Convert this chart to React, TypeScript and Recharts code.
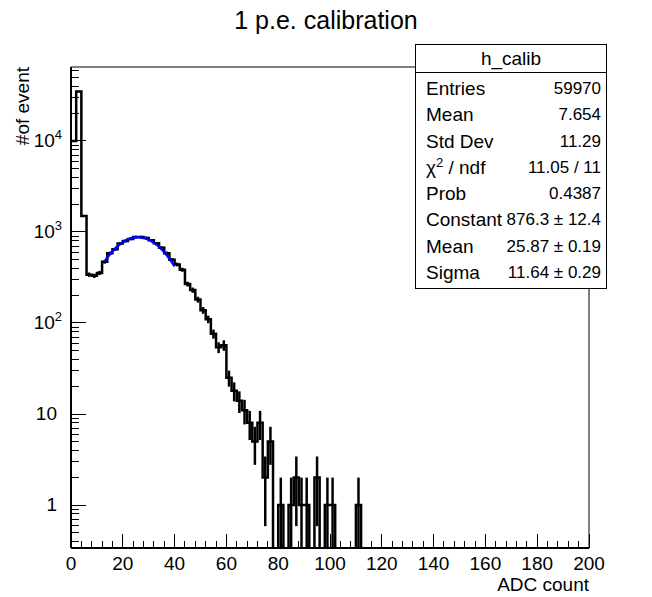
import { ComposedChart, Line, Scatter, ErrorBar, XAxis, YAxis, ReferenceArea } from "recharts";

const FONT = '"Liberation Sans", Arial, Helvetica, sans-serif';

// h_calib bin contents, 2 ADC counts per bin, 0..200
const counts = [
  10000, 35000, 1500, 340, 330, 355, 470, 585, 645, 745,
  795, 840, 880, 880, 860, 810, 750, 670, 585, 495,
  440, 385, 268, 230, 181, 138, 110, 76, 54, 57,
  25, 18, 14, 11, 8, 5, 8, 2, 5, 0,
  1, 0, 1, 2, 1, 1, 0, 2, 0, 1,
  1, 0, 0, 0, 0, 1, 0, 0, 0, 0,
  0, 0, 0, 0, 0, 0, 0, 0, 0, 0,
  0, 0, 0, 0, 0, 0, 0, 0, 0, 0,
  0, 0, 0, 0, 0, 0, 0, 0, 0, 0,
  0, 0, 0, 0, 0, 0, 0, 0, 0, 0,
];
const BIN_WIDTH = 2;

// gaussian fit drawn over 13..40
const fitX = [13, 14, 15, 16, 17, 18, 19, 20, 21, 22, 23, 24, 25, 26, 27, 28, 29, 30, 31, 32, 33, 34, 35, 36, 37, 38, 39, 40];
const fitY = [475.6, 521.0, 566.6, 611.7, 655.5, 697.3, 736.2, 771.7, 802.9, 829.2, 850.1, 865.1, 873.9, 876.2, 872.2, 861.7, 845.2, 822.8, 795.2, 762.8, 726.5, 686.7, 644.3, 600.0, 554.7, 509.1, 463.8, 419.5];

const xTicks = [0, 4, 8, 12, 16, 20, 24, 28, 32, 36, 40, 44, 48, 52, 56, 60, 64, 68, 72, 76, 80, 84, 88, 92, 96, 100, 104, 108, 112, 116, 120, 124, 128, 132, 136, 140, 144, 148, 152, 156, 160, 164, 168, 172, 176, 180, 184, 188, 192, 196, 200];
const yDecades = [0.1, 1, 10, 100, 1000, 10000];
const yMinorSteps = [1, 2, 3, 4, 5, 6, 7, 8, 9];

const statLabels = ["Entries", "Mean", "Std Dev", "chi2", "Prob", "Constant", "Mean", "Sigma"];
const statValues = ["59970", "7.654", "11.29", "11.05 / 11", "0.4387", "876.3 \u00b1 12.4", "25.87 \u00b1 0.19", "11.64 \u00b1 0.29"];

const Y_MIN = 0.337;
const Y_MAX = 65000;

const yTicks = yDecades
  .flatMap((d) => yMinorSteps.map((m) => Math.round(m * d * 10) / 10))
  .filter((v) => v >= Y_MIN && v <= Y_MAX);

const histData = counts.map((c, i) => ({ x: i * BIN_WIDTH, y: c > 0 ? c : Y_MIN / 4 }));
histData.push({ x: counts.length * BIN_WIDTH, y: Y_MIN / 4 });

const errData = counts
  .map((c, i) => ({ x: i * BIN_WIDTH + BIN_WIDTH / 2, y: c, err: [c - Math.max(c - Math.sqrt(c), Y_MIN), Math.sqrt(c)] }))
  .filter((p) => p.y > 0);

const fitData = fitX.map((x, i) => ({ x, y: fitY[i] }));

const XTick = (props: any) => {
  const { x, y, payload } = props;
  const v = payload.value;
  const major = v % 20 === 0;
  return (
    <g>
      <line x1={x} x2={x} y1={y} y2={y - (major ? 14 : 7)} stroke="#000" shapeRendering="crispEdges" />
      {major && (
        <text x={x} y={y + 22} textAnchor="middle" fontSize={19} fontFamily={FONT} fill="#000">{v}</text>
      )}
    </g>
  );
};

const YTick = (props: any) => {
  const { x, y, payload } = props;
  const v = payload.value;
  const lg = Math.log10(v);
  const e = Math.round(lg);
  const major = Math.abs(lg - e) < 1e-6;
  let label = null;
  if (major) {
    if (e <= 1) {
      label = <text x={x - 14} y={y + 6} textAnchor="end" fontSize={19} fontFamily={FONT} fill="#000">{String(v)}</text>;
    } else {
      label = (
        <text x={x - 9} y={y + 6} textAnchor="end" fontSize={19} fontFamily={FONT} fill="#000">
          10<tspan dy={-8} fontSize={13}>{e}</tspan>
        </text>
      );
    }
  }
  return (
    <g>
      <line x1={x} x2={x + (major ? 15 : 8)} y1={y} y2={y} stroke="#000" shapeRendering="crispEdges" />
      {label}
    </g>
  );
};

const StatsBox = () => (
  <div style={{ position: "absolute", left: 415, top: 44, width: 192, height: 245, boxSizing: "border-box", border: "1px solid #000", background: "#fff", fontFamily: FONT, fontSize: 19, color: "#000" }}>
    <div style={{ height: 28, boxSizing: "border-box", borderBottom: "1px solid #000", textAlign: "center", lineHeight: "27px" }}>h_calib</div>
    <div style={{ paddingTop: 3 }}>
      {statLabels.map((l, i) => (
        <div key={i} style={{ display: "flex", justifyContent: "space-between", height: 26.3, lineHeight: "26.3px", padding: "0 5px 0 10px", whiteSpace: "nowrap" }}>
          <span>
            {l === "chi2" ? (
              <>
                {"\u03c7"}
                <span style={{ fontSize: 13, position: "relative", top: -7 }}>2</span> / ndf
              </>
            ) : (
              l
            )}
          </span>
          <span style={{ fontSize: 17 }}>{statValues[i]}</span>
        </div>
      ))}
    </div>
  </div>
);

const App = () => (
  <div style={{ position: "absolute", left: 0, top: 0, width: 652, height: 597, background: "#fff", fontFamily: FONT }}>
    <ComposedChart width={652} height={597} margin={{ top: 67, right: 63, bottom: 9, left: 0 }}>
      <XAxis
        dataKey="x"
        type="number"
        domain={[0, 200]}
        ticks={xTicks}
        interval={0}
        height={40}
        tickSize={0}
        tickMargin={0}
        tickLine={false}
        axisLine={{ stroke: "#000", strokeWidth: 2 }}
        tick={<XTick />}
      />
      <YAxis
        dataKey="y"
        type="number"
        scale="log"
        domain={[Y_MIN, Y_MAX]}
        allowDataOverflow
        ticks={yTicks}
        interval={0}
        width={71}
        tickSize={0}
        tickMargin={0}
        tickLine={false}
        axisLine={{ stroke: "#000", strokeWidth: 2 }}
        tick={<YTick />}
      />
      <ReferenceArea x1={0} x2={200} y1={Y_MIN} y2={Y_MAX} fill="none" stroke="#000" strokeWidth={1} />
      <Line data={histData} dataKey="y" type="stepAfter" stroke="#000" strokeWidth={2.5} dot={false} isAnimationActive={false} />
      <Scatter data={errData} dataKey="y" shape={() => <g />} isAnimationActive={false}>
        <ErrorBar dataKey="err" direction="y" width={0} stroke="#000" strokeWidth={2.5} isAnimationActive={false} />
      </Scatter>
      <Line data={fitData} dataKey="y" type="monotone" stroke="#0000ff" strokeWidth={2.5} dot={false} isAnimationActive={false} />
    </ComposedChart>
    <svg width={652} height={597} style={{ position: "absolute", left: 0, top: 0, pointerEvents: "none" }}>
      <text x={326} y={29} textAnchor="middle" fontSize={25} fontFamily={FONT} fill="#000">1 p.e. calibration</text>
      <text x={29} y={67} transform="rotate(-90 29 67)" textAnchor="end" fontSize={19} fontFamily={FONT} fill="#000">#of event</text>
      <text x={589} y={591} textAnchor="end" fontSize={19} fontFamily={FONT} fill="#000">ADC count</text>
    </svg>
    <StatsBox />
  </div>
);

export default App;
